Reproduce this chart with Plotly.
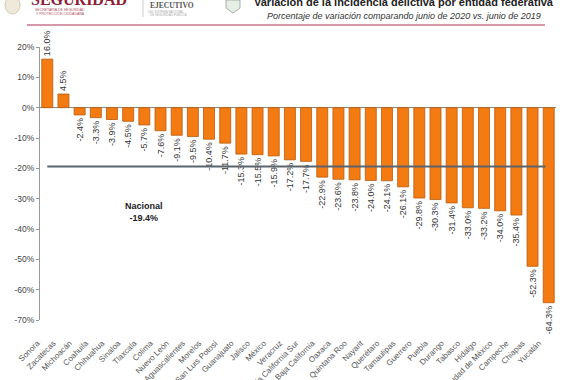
import plotly.graph_objects as go

estados = ["Sonora", "Zacatecas", "Michoacán", "Coahuila", "Chihuahua", "Sinaloa", "Tlaxcala",
           "Colima", "Nuevo León", "Aguascalientes", "Morelos", "San Luis Potosí", "Guanajuato",
           "Jalisco", "México", "Veracruz", "Baja California Sur", "Baja California", "Oaxaca",
           "Quintana Roo", "Nayarit", "Querétaro", "Tamaulipas", "Guerrero", "Puebla", "Durango",
           "Tabasco", "Hidalgo", "Ciudad de México", "Campeche", "Chiapas", "Yucatán"]
variacion = [16.0, 4.5, -2.4, -3.3, -3.9, -4.5, -5.7, -7.6, -9.1, -9.5, -10.4, -11.7, -15.3,
             -15.5, -15.9, -17.2, -17.7, -22.9, -23.6, -23.8, -24.0, -24.1, -26.1, -29.8, -30.3,
             -31.4, -33.0, -33.2, -34.0, -35.4, -52.3, -64.3]
nacional = -19.4
y_ticks = [20, 10, 0, -10, -20, -30, -40, -50, -60, -70]
y_tick_labels = ["20%", "10%", "0%", "-10%", "-20%", "-30%", "-40%", "-50%", "-60%", "-70%"]

etiquetas = [f"{v:.1f}%" for v in variacion]
FONT = "Liberation Sans, Arial, sans-serif"

# plot area in pixels
L, R, T, B = 40, 556, 47, 320


def pxx(x):
    return (x - L) / (R - L)


def pxy(y):
    return (B - y) / (B - T)


fig = go.Figure()
fig.add_trace(go.Bar(
    x=estados, y=variacion, text=etiquetas, textposition="outside", textangle=-90,
    textfont=dict(size=9, color="#333333", family=FONT),
    marker=dict(color="#f47b12", line=dict(color="#b85a0c", width=0.8)),
    cliponaxis=False, constraintext="none",
))

# national reference line
fig.add_shape(type="line", xref="x", yref="y", x0=0, x1=len(estados) - 1.2,
              y0=nacional, y1=nacional, line=dict(color="#5b646c", width=2))
fig.add_annotation(x=6.0, y=-34.5, xref="x", yref="y",
                   text=f"<b>Nacional</b><br><b>{nacional:.1f}%</b>", showarrow=False,
                   font=dict(size=9, color="#222222", family=FONT), align="center")

# header
annots = [
    dict(x=404, y=2, text="<b>Variación de la incidencia delictiva por entidad federativa</b>",
         size=11, color="#222222"),
    dict(x=404, y=16, text="<i>Porcentaje de variación comparando junio de 2020 vs. junio de 2019</i>",
         size=9, color="#333333"),
    dict(x=79, y=0, text="<b>SEGURIDAD</b>", size=16, color="#8c2136", fam="Liberation Serif, serif"),
    dict(x=60, y=10, text="SECRETARÍA DE SEGURIDAD", size=3.5, color="#b05060"),
    dict(x=60, y=13.5, text="Y PROTECCIÓN CIUDADANA", size=3.5, color="#b05060"),
    dict(x=172, y=5, text="<b>EJECUTIVO</b>", size=7.5, color="#555555", fam="Liberation Serif, serif"),
    dict(x=166, y=11.5, text="DEL SISTEMA NACIONAL", size=3, color="#aaaaaa"),
    dict(x=168, y=14.5, text="DE SEGURIDAD PÚBLICA", size=3, color="#aaaaaa"),
]
for a in annots:
    fig.add_annotation(x=pxx(a["x"]), y=pxy(a["y"]), xref="paper", yref="paper",
                       text=a["text"], showarrow=False, xanchor="center", yanchor="middle",
                       font=dict(size=a["size"], color=a["color"], family=a.get("fam", FONT)))

fig.update_layout(shapes=list(fig.layout.shapes) + [
    dict(type="line", xref="paper", yref="paper", x0=pxx(27), x1=pxx(545),
         y0=pxy(25), y1=pxy(25), line=dict(color="#c9768c", width=1.5)),
    dict(type="line", xref="paper", yref="paper", x0=pxx(143), x1=pxx(143),
         y0=pxy(0), y1=pxy(17), line=dict(color="#cccccc", width=1)),
    dict(type="circle", xref="paper", yref="paper", x0=pxx(5), x1=pxx(20),
         y0=pxy(-4), y1=pxy(14), line=dict(color="#d6cbb4", width=1),
         fillcolor="#efe9dc"),
    dict(type="path", xref="paper", yref="paper",
         path=f"M {pxx(226)} {pxy(0)} L {pxx(240)} {pxy(0)} L {pxx(240)} {pxy(8)} "
              f"L {pxx(233)} {pxy(13)} L {pxx(226)} {pxy(8)} Z",
         line=dict(color="#999999", width=0.8), fillcolor="#e6efe6"),
])

fig.update_layout(
    width=570, height=380,
    margin=dict(l=L, r=570 - R, t=T, b=380 - B),
    paper_bgcolor="white", plot_bgcolor="white",
    showlegend=False, bargap=0.32,
    font=dict(family=FONT, color="#444444"),
    xaxis=dict(tickangle=-45, tickfont=dict(size=8, color="#555555", family=FONT),
               showline=False, ticks="", showgrid=False, ticklabelstandoff=16,
               ticklabelshift=-10, range=[-0.45, len(estados) - 0.55], automargin=False),
    yaxis=dict(range=[-70, 20], tickvals=y_ticks, ticktext=y_tick_labels,
               tickfont=dict(size=8.5, color="#444444", family=FONT),
               showline=True, linecolor="#999999", linewidth=1, ticks="outside",
               ticklen=3, tickcolor="#999999", showgrid=False, automargin=False,
               zeroline=True, zerolinecolor="#8a8a8a", zerolinewidth=1),
)
fig.write_html("out.html", config={"displayModeBar": False},
               post_script="document.body.style.margin='0';document.body.style.overflow='hidden';")
